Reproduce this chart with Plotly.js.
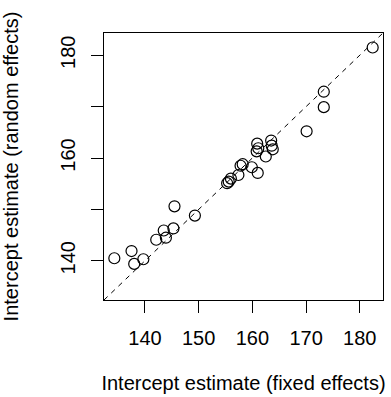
<!DOCTYPE html>
<html>
<head>
<meta charset="utf-8">
<script src="https://cdn.plot.ly/plotly-3.0.1.min.js"></script>
<style>html,body{margin:0;padding:0;background:#fff;}#chart{width:391px;height:397px;}</style>
</head>
<body>
<div id="chart"></div>
<script>
// Intercept estimates per subject
const fixedEffects = [134.3, 137.5, 138.0, 139.7, 142.1, 143.5, 143.9, 145.3, 145.5, 149.3,
  155.3, 155.6, 156.0, 157.4, 157.8, 158.2, 159.9, 161.0, 162.5, 160.9,
  161.1, 160.8, 163.5, 163.6, 163.8, 170.1, 173.3, 173.3, 182.4];
const randomEffects = [140.5, 141.9, 139.4, 140.3, 144.1, 145.9, 144.5, 146.3, 150.6, 148.8,
  155.1, 155.4, 156.0, 156.7, 158.5, 158.8, 158.2, 157.1, 160.3, 162.8,
  161.9, 161.3, 163.4, 162.4, 161.7, 165.2, 172.9, 169.9, 181.5];
const xTickVals = [140, 150, 160, 170, 180];
const xTickText = ['140', '150', '160', '170', '180'];
const yTickVals = [140, 150, 160, 170, 180];
const yTickText = ['140', '', '160', '', '180'];
const xTitle = 'Intercept estimate (fixed effects)';
const yTitle = 'Intercept estimate (random effects)';

const all = fixedEffects.concat(randomEffects);
const lo = Math.min(...all), hi = Math.max(...all);
const pad = (hi - lo) * 0.04;
const rng = [lo - pad, hi + pad];

const font = {family: 'Liberation Sans, Arial, sans-serif', size: 20, color: '#000'};

const traces = [
  {
    x: rng, y: rng, type: 'scatter', mode: 'lines',
    line: {color: '#000', width: 1, dash: '5px,5px'},
    hoverinfo: 'skip', showlegend: false
  },
  {
    x: fixedEffects, y: randomEffects, type: 'scatter', mode: 'markers',
    marker: {symbol: 'circle-open', size: 11, color: '#000', line: {width: 1.2, color: '#000'}},
    showlegend: false
  }
];

const axisCommon = {
  range: rng, showgrid: false, zeroline: false,
  showline: true, linecolor: '#000', linewidth: 1, mirror: true,
  ticks: 'outside', ticklen: 12, tickwidth: 1, tickcolor: '#000',
  tickfont: font, automargin: false, ticklabelstandoff: 8
};

const layout = {
  width: 391, height: 397,
  margin: {l: 103.5, r: 7.5, t: 32.5, b: 97, pad: 0},
  paper_bgcolor: '#fff', plot_bgcolor: '#fff',
  font: font,
  showlegend: false,
  xaxis: Object.assign({}, axisCommon, {
    tickvals: xTickVals, ticktext: xTickText,
    title: {text: xTitle, font: font, standoff: 27}
  }),
  yaxis: Object.assign({}, axisCommon, {
    tickvals: yTickVals, ticktext: yTickText, tickangle: -90,
    title: {text: yTitle, font: font, standoff: 39}
  })
};

Plotly.newPlot('chart', traces, layout, {staticPlot: true, displayModeBar: false});
</script>
</body>
</html>
